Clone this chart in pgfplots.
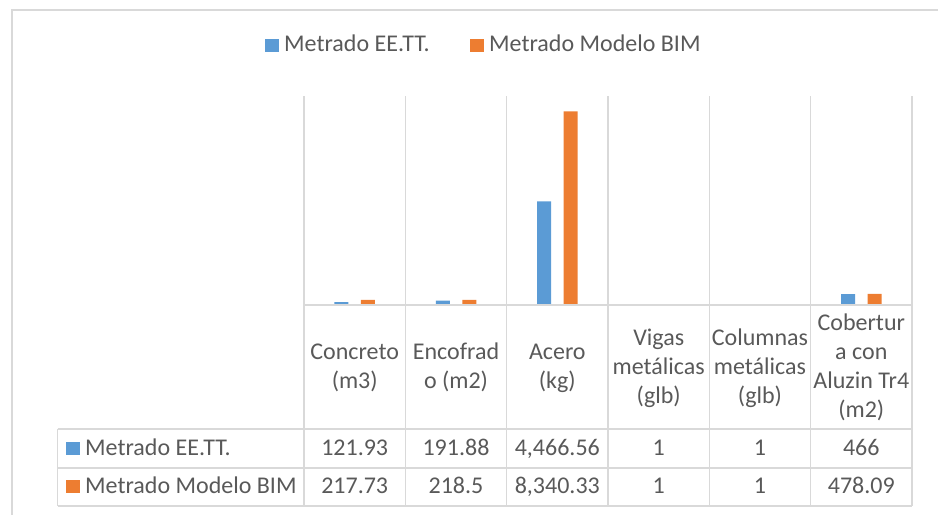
\documentclass[border=0pt]{standalone}
\usepackage{pgfplots}
\pgfplotsset{compat=1.18}
\usepackage{fontspec}
\setmainfont{Carlito}
\definecolor{cblue}{HTML}{5B9BD5}
\definecolor{corange}{HTML}{ED7D31}
\definecolor{cgrid}{HTML}{D9D9D9}
\definecolor{ctext}{HTML}{595959}
\begin{document}
\begin{tikzpicture}[every node/.style={font=\fontsize{24bp}{29bp}\selectfont, text=ctext, inner sep=0pt}]
\path[use as bounding box] (0bp,0bp) rectangle (938bp,-515bp);
% chart border
\draw[cgrid, line width=1.3bp] (12bp,-515bp) -- (12bp,-10bp) -- (938bp,-10bp);
\begin{axis}[
  at={(304bp,-305bp)}, anchor=south west,
  scale only axis, width=608bp, height=209bp,
  xmin=-0.5, xmax=5.5, ymin=0, ymax=9000,
  axis line style={draw=none},
  xtick={-0.5,0.5,1.5,2.5,3.5,4.5,5.5}, xticklabels={},
  ytick=\empty,
  major tick length=0pt,
  xmajorgrids, major grid style={cgrid, line width=1.5bp},
  ybar, bar width=14bp,
  clip=false,
]
\addplot[fill=cblue, draw=none, bar shift=-13.25bp] coordinates {(0,121.93) (1,191.88) (2,4466.56) (3,1) (4,1) (5,466)};
\addplot[fill=corange, draw=none, bar shift=13.25bp] coordinates {(0,217.73) (1,218.5) (2,8340.33) (3,1) (4,1) (5,478.09)};
\end{axis}
% table lines
\draw[cgrid, line width=2bp] (304bp,-305bp) -- (912bp,-305bp);
\foreach \x in {304,405.33,506.67,608,709.33,810.67,912}
  \draw[cgrid, line width=1.5bp] (\x bp,-305bp) -- (\x bp,-506bp);
\foreach \y in {429,468,506}
  \draw[cgrid, line width=1.5bp] (57.7bp,-\y bp) -- (912bp,-\y bp);
\draw[cgrid, line width=1.5bp] (57.7bp,-429bp) -- (57.7bp,-506bp);
% legend
\fill[cblue] (265bp,-38.5bp) rectangle (279bp,-52bp);
\node[anchor=base west] at (284bp,-51.5bp) {Metrado EE.TT.};
\fill[corange] (470bp,-38.5bp) rectangle (484bp,-52bp);
\node[anchor=base west] at (489bp,-51.5bp) {Metrado Modelo BIM};
% header labels
\node[anchor=base] at (354.7bp,-359bp) {Concreto};
\node[anchor=base] at (354.7bp,-388bp) {(m3)};
\node[anchor=base] at (456bp,-359bp) {Encofrad};
\node[anchor=base] at (456bp,-388bp) {o (m2)};
\node[anchor=base] at (557.3bp,-359bp) {Acero};
\node[anchor=base] at (557.3bp,-388bp) {(kg)};
\node[anchor=base] at (658.7bp,-345bp) {Vigas};
\node[anchor=base] at (658.7bp,-374bp) {metálicas};
\node[anchor=base] at (658.7bp,-403bp) {(glb)};
\node[anchor=base] at (760bp,-345bp) {Columnas};
\node[anchor=base] at (760bp,-374bp) {metálicas};
\node[anchor=base] at (760bp,-403bp) {(glb)};
\node[anchor=base] at (861.3bp,-330bp) {Cobertur};
\node[anchor=base] at (861.3bp,-359bp) {a con};
\node[anchor=base] at (861.3bp,-388bp) {Aluzin Tr4};
\node[anchor=base] at (861.3bp,-417bp) {(m2)};
% row labels
\fill[cblue] (66bp,-441.5bp) rectangle (80bp,-455bp);
\node[anchor=base west] at (85bp,-455bp) {Metrado EE.TT.};
\fill[corange] (66bp,-479.5bp) rectangle (80bp,-493bp);
\node[anchor=base west] at (85bp,-493bp) {Metrado Modelo BIM};
% values
\node[anchor=base] at (354.7bp,-455bp) {121.93};
\node[anchor=base] at (456bp,-455bp) {191.88};
\node[anchor=base] at (557.3bp,-455bp) {4,466.56};
\node[anchor=base] at (658.7bp,-455bp) {1};
\node[anchor=base] at (760bp,-455bp) {1};
\node[anchor=base] at (861.3bp,-455bp) {466};
\node[anchor=base] at (354.7bp,-493bp) {217.73};
\node[anchor=base] at (456bp,-493bp) {218.5};
\node[anchor=base] at (557.3bp,-493bp) {8,340.33};
\node[anchor=base] at (658.7bp,-493bp) {1};
\node[anchor=base] at (760bp,-493bp) {1};
\node[anchor=base] at (861.3bp,-493bp) {478.09};
\end{tikzpicture}
\end{document}
